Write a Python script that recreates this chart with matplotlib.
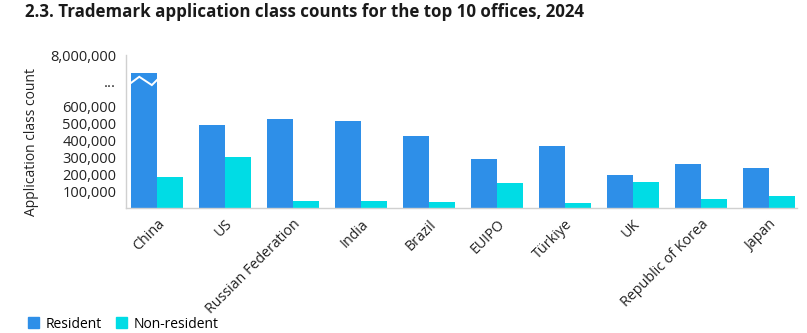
#!/usr/bin/env python3
"""
Trademark application class counts for the top 10 offices, 2024.
Grouped bars (resident / non-resident) with a broken y axis for China.
"""

import numpy as np
import matplotlib
matplotlib.use("Agg")
import matplotlib.pyplot as plt
from matplotlib.patches import Patch

offices = ["China", "US", "Russian Federation", "India", "Brazil",
           "EUIPO", "Türkiye", "UK", "Republic of Korea", "Japan"]
resident = [7200000, 491000, 526000, 515000, 426000,
            291000, 368000, 197000, 262000, 240000]
non_resident = [187000, 305000, 44000, 44000, 40000,
                152000, 34000, 158000, 54000, 74000]

ytick_values = [100000, 200000, 300000, 400000, 500000, 600000, 8000000]
ytick_labels = ["100,000", "200,000", "300,000", "400,000", "500,000",
                "600,000", "8,000,000"]

RES_COLOR = "#2E8FE8"
NONRES_COLOR = "#00DCE5"

# piecewise scale: linear up to 650k, squashed gap, then 6.5M..8M on top
BREAK_IN = [0, 650000, 6500000, 8000000]
BREAK_OUT = [0, 650000, 700000, 903000]


def forward(v):
    return np.interp(v, BREAK_IN, BREAK_OUT)


def inverse(v):
    return np.interp(v, BREAK_OUT, BREAK_IN)


plt.rcParams["font.family"] = ["Open Sans", "DejaVu Sans"]

fig = plt.figure(figsize=(8.07, 3.33), dpi=100)
ax = fig.add_axes([0.1561, 0.3739, 0.8315, 0.4609])
ax.set_yscale("function", functions=(forward, inverse))

x = np.arange(len(offices))
w = 0.378
ax.bar(x - w / 2, resident, width=w, color=RES_COLOR, label="Resident")
ax.bar(x + w / 2, non_resident, width=w, color=NONRES_COLOR, label="Non-resident")

# zigzag break marker on the China bar
zx = np.array([0.0, 0.31, 0.8, 1.0]) * w + (x[0] - w)
zy = inverse(np.array([740000, 775000, 726000, 756000]))
ax.plot(zx, zy, color="white", lw=1.4, solid_joinstyle="miter", zorder=3)

ax.set_xlim(-0.456, 9.412)
ax.set_ylim(0, 8000000)

dots_value = inverse(746000)
ax.set_yticks(ytick_values[:-1] + [float(dots_value)] + ytick_values[-1:])
ax.set_yticklabels(ytick_labels[:-1] + ["..."] + ytick_labels[-1:])
ax.tick_params(axis="y", length=0, pad=7, labelsize=10.5, labelcolor="#222222")

ax.set_xticks(x)
ax.set_xticklabels(offices, rotation=45, ha="right", va="top",
                   rotation_mode="anchor")
ax.tick_params(axis="x", length=0, pad=6, labelsize=10.3, labelcolor="#222222")

for side in ["top", "right"]:
    ax.spines[side].set_visible(False)
for side in ["left", "bottom"]:
    ax.spines[side].set_color("#D0D0D0")
    ax.spines[side].set_linewidth(1.0)

fig.text(32 / 807, 1 - 142 / 333, "Application class count", rotation=90,
         ha="center", va="center", fontsize=10, color="#222222")

fig.text(25 / 807, 1 - 12 / 333,
         "2.3. Trademark application class counts for the top 10 offices, 2024",
         ha="left", va="center", fontsize=12.2, fontweight="bold", color="#1a1a1a")

handles = [Patch(color=RES_COLOR, label="Resident"),
           Patch(color=NONRES_COLOR, label="Non-resident")]
fig.legend(handles=handles, loc="center left", bbox_to_anchor=(22 / 807, 1 - 324 / 333),
           ncol=2, frameon=False, fontsize=10, handlelength=0.8, handleheight=0.8,
           handletextpad=0.5, columnspacing=1.0, borderaxespad=0)

fig.savefig("out.png", dpi=100)
